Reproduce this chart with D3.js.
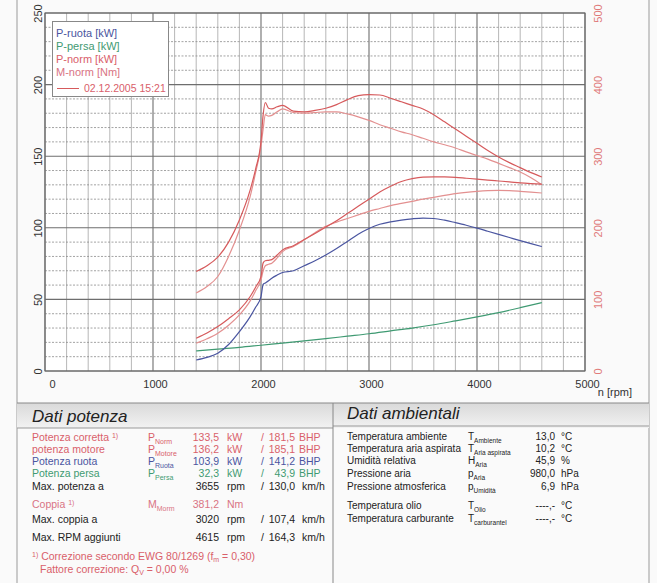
<!DOCTYPE html>
<html><head><meta charset="utf-8">
<script src="https://cdn.jsdelivr.net/npm/d3@7"></script>
<style>
body{margin:0;background:#fafafa;}
svg{display:block;font-family:Arial,"Liberation Sans",sans-serif;}
</style></head><body>
<svg id="c" width="657" height="583"></svg>
<script>
// ---------- data ----------
const rpm = [1400,1500,1600,1700,1800,1900,1950,2000,2020,2040,2070,2100,2150,2200,2300,2400,2500,2600,2700,2800,2900,3000,3100,3200,3300,3400,3500,3600,3700,3800,3900,4000,4100,4200,4300,4400,4500,4600];
const pRuota = [7.7,9.5,12.4,18.5,27.5,38,44.5,52,60.5,61.5,63,64.8,67,68.8,70,73.5,77,81,85.5,90.5,95.5,99.5,102.5,104.2,105.4,106.3,106.8,106.5,105.3,103.6,101.8,99.8,97.6,95.4,93.2,91,88.9,86.9];
const pNormA = [22.9,26.5,31,36.5,42.7,52,58.5,66,75.5,77,77.3,77.8,81,84.6,87.5,91.8,96,100.5,105,110,115,120,125,129,132.3,134.3,135.4,135.6,135.5,135.2,134.6,134,133.3,132.7,132.1,131.4,130.9,130.5];
const pNormB = [19.4,22.5,26.4,32,39.2,49,56,63.6,70,73.5,74.5,75.3,79,83.4,87,91.6,96.5,101,104,106.5,109,111.5,113.5,115.5,117,118.5,120,121.3,122.6,123.8,124.8,125.5,126,126.2,126,125.5,124.9,124.3];
const mNormA = [139,147,159,180,211,253,282,321,358,375,367,366,369,371,363,362,364,367,372,379,384.5,386,385.5,381,376,371,366,358,348,338,328,318,308,299,291,284,277,271];
const mNormB = [109,118,132,160,197,244,277,314,338,358,356,357,362,366,361,360,361,362,362,359,355,350,344,339,334,330,325,320,316,311.5,306,301,296,290,284,278,270,260];
const rpmPersa = [1400,1600,1800,2000,2200,2400,2600,2800,3000,3200,3400,3600,3800,4000,4200,4400,4600];
const pPersa = [14,15.3,16.5,18,19.5,21,22.6,24.3,26,28,30,32.3,35,37.8,40.8,44.2,47.8];

const xTicks = [0,1000,2000,3000,4000,5000];
const yLeftTicks = [0,50,100,150,200,250];
const yRightTicks = [0,100,200,300,400,500];
const legendLabels = ["P-ruota [kW]","P-persa [kW]","P-norm [kW]","M-norm [Nm]"];
const runLabel = "02.12.2005 15:21";

const C = {blue:"#4a55a0", green:"#3f9a72", redA:"#d65a5c", redB:"#e39090", red:"#d9606a", pink:"#d97484"};

// ---------- scales ----------
const svg = d3.select("#c");
const x = d3.scaleLinear().domain([0,5000]).range([45,585]);
const yP = d3.scaleLinear().domain([0,250]).range([371,13]);
const yM = d3.scaleLinear().domain([0,500]).range([371,13]);

// page borders
svg.append("line").attr("x1",17).attr("x2",17).attr("y1",0).attr("y2",583).attr("stroke","#9a9a9a");
svg.append("line").attr("x1",649).attr("x2",649).attr("y1",0).attr("y2",583).attr("stroke","#9a9a9a");

// plot background
svg.append("rect").attr("x",45).attr("y",13).attr("width",540).attr("height",358).attr("fill","#fff");

// grid
const g = svg.append("g");
d3.range(0,5001,200).forEach(v=>{
  const major = v%1000===0;
  g.append("line").attr("x1",x(v)).attr("x2",x(v)).attr("y1",13).attr("y2",371)
   .attr("stroke",major?"#6e6e6e":"#a4a4a4").attr("stroke-width",major?1.1:0.8);
});
d3.range(0,251,10).forEach(v=>{
  const major = v%50===0;
  g.append("line").attr("x1",45).attr("x2",585).attr("y1",yP(v)).attr("y2",yP(v))
   .attr("stroke",major?"#6e6e6e":"#8c8c8c").attr("stroke-width",major?1.1:0.8)
   .attr("stroke-dasharray",major?null:"2,1.5");
});
svg.append("rect").attr("x",45).attr("y",13).attr("width",540).attr("height",358)
  .attr("fill","none").attr("stroke","#666").attr("stroke-width",1);

// axes
const ax = svg.append("g").attr("transform","translate(2,371)")
  .call(d3.axisBottom(x).tickValues(xTicks).tickSize(0).tickPadding(9).tickFormat(d3.format("d")));
ax.select(".domain").remove();
ax.selectAll("text").attr("font-size",11).attr("fill","#333").attr("font-family","Arial, Liberation Sans, sans-serif");
ax.selectAll("text").filter(d=>d===0).attr("x",5);

const al = svg.append("g").attr("transform","translate(45,0)")
  .call(d3.axisLeft(yP).tickValues(yLeftTicks).tickSize(0).tickFormat(d3.format("d")));
al.select(".domain").remove();
al.selectAll("text").attr("transform","rotate(-90)").attr("x",0).attr("y",-3).attr("dy",0)
  .attr("text-anchor","middle").attr("font-size",11).attr("fill","#333").attr("font-family","Arial, Liberation Sans, sans-serif");

const ar = svg.append("g").attr("transform","translate(585,0)")
  .call(d3.axisRight(yM).tickValues(yRightTicks).tickSize(0).tickFormat(d3.format("d")));
ar.select(".domain").remove();
ar.selectAll("text").attr("transform","rotate(-90)").attr("x",0).attr("y",17).attr("dy",0)
  .attr("text-anchor","middle").attr("font-size",11).attr("fill","#e07a7a").attr("font-family","Arial, Liberation Sans, sans-serif");

svg.append("text").attr("x",632).attr("y",396).attr("text-anchor","end").attr("font-size",11).attr("fill","#333").text("n [rpm]");

// lines
const lineP = (xs)=>d3.line().x((d,i)=>x(xs[i])).y(d=>yP(d)).curve(d3.curveMonotoneX);
const lineM = (xs)=>d3.line().x((d,i)=>x(xs[i])).y(d=>yM(d)).curve(d3.curveMonotoneX);
const L = svg.append("g").attr("fill","none").attr("stroke-width",1.2);
L.append("path").attr("d",lineP(rpmPersa)(pPersa)).attr("stroke",C.green);
L.append("path").attr("d",lineM(rpm)(mNormB)).attr("stroke",C.redB);
L.append("path").attr("d",lineP(rpm)(pNormB)).attr("stroke",C.redB);
L.append("path").attr("d",lineM(rpm)(mNormA)).attr("stroke",C.redA);
L.append("path").attr("d",lineP(rpm)(pNormA)).attr("stroke",C.redA);
L.append("path").attr("d",lineP(rpm)(pRuota)).attr("stroke",C.blue);

// legend
const lg = svg.append("g");
lg.append("rect").attr("x",52.5).attr("y",21.5).attr("width",116).attr("height",75).attr("fill","#fff").attr("stroke","#888");
const lcol = [C.blue,C.green,C.red,C.pink];
legendLabels.forEach((t,i)=>{
  lg.append("text").attr("x",56).attr("y",37+i*13).attr("font-size",11).attr("fill",lcol[i]).text(t);
});
lg.append("line").attr("x1",57).attr("x2",79).attr("y1",88.5).attr("y2",88.5).attr("stroke",C.redA);
lg.append("text").attr("x",84).attr("y",92).attr("font-size",10.5).attr("fill",C.red).text(runLabel);

// ---------- bottom panel ----------
const defs = svg.append("defs");
const grad = defs.append("linearGradient").attr("id","hg").attr("x1",0).attr("x2",0).attr("y1",0).attr("y2",1);
grad.append("stop").attr("offset","0").attr("stop-color","#d9d9d9");
grad.append("stop").attr("offset","1").attr("stop-color","#f2f2f2");
svg.append("rect").attr("x",17).attr("y",403).attr("width",632).attr("height",25).attr("fill","url(#hg)");
svg.append("line").attr("x1",17).attr("x2",649).attr("y1",403).attr("y2",403).attr("stroke","#888");
svg.append("line").attr("x1",17).attr("x2",333).attr("y1",428).attr("y2",428).attr("stroke","#999");
svg.append("line").attr("x1",333).attr("x2",649).attr("y1",426).attr("y2",426).attr("stroke","#999");
svg.append("line").attr("x1",333).attr("x2",333).attr("y1",403).attr("y2",583).attr("stroke","#888");

svg.append("text").attr("x",32).attr("y",422).attr("font-size",17).attr("font-style","italic").attr("fill","#222").text("Dati potenza");
svg.append("text").attr("x",347).attr("y",419).attr("font-size",17).attr("font-style","italic").attr("fill","#222").text("Dati ambientali");

function sub(sel, main, s, fs){
  sel.append("tspan").text(main);
  sel.append("tspan").attr("font-size",fs||7).attr("dy",3).text(s);
}
const leftRows = [
  {y:441,label:"Potenza corretta ",sup:"1)",sym:"P",sub:"Norm",v1:"133,5",u1:"kW",v2:"181,5",u2:"BHP",col:C.red},
  {y:453,label:"potenza motore",sym:"P",sub:"Motore",v1:"136,2",u1:"kW",v2:"185,1",u2:"BHP",col:C.red},
  {y:465,label:"Potenza ruota",sym:"P",sub:"Ruota",v1:"103,9",u1:"kW",v2:"141,2",u2:"BHP",col:C.blue},
  {y:477,label:"Potenza persa",sym:"P",sub:"Persa",v1:"32,3",u1:"kW",v2:"43,9",u2:"BHP",col:C.green},
  {y:490,label:"Max. potenza a",v1:"3655",u1:"rpm",v2:"130,0",u2:"km/h",col:"#222"},
  {y:508,label:"Coppia ",sup:"1)",sym:"M",sub:"Morm",v1:"381,2",u1:"Nm",col:C.pink},
  {y:523,label:"Max. coppia a",v1:"3020",u1:"rpm",v2:"107,4",u2:"km/h",col:"#222"},
  {y:541,label:"Max. RPM aggiunti",v1:"4615",u1:"rpm",v2:"164,3",u2:"km/h",col:"#222"}
];
const T = svg.append("g").attr("font-size",10.5);
leftRows.forEach(r=>{
  const t = T.append("text").attr("x",32).attr("y",r.y).attr("fill",r.col);
  t.append("tspan").text(r.label);
  if(r.sup) t.append("tspan").attr("font-size",7).attr("dy",-3).text(r.sup);
  if(r.sym){ const s=T.append("text").attr("x",148).attr("y",r.y).attr("fill",r.col); sub(s,r.sym,r.sub); }
  T.append("text").attr("x",219).attr("y",r.y).attr("text-anchor","end").attr("fill",r.col).text(r.v1);
  T.append("text").attr("x",227).attr("y",r.y).attr("fill",r.col).text(r.u1);
  if(r.v2){
    T.append("text").attr("x",261).attr("y",r.y).attr("fill",r.col).text("/");
    T.append("text").attr("x",295).attr("y",r.y).attr("text-anchor","end").attr("fill",r.col).text(r.v2);
    T.append("text").attr("x",r.u2==="BHP"?299:302).attr("y",r.y).attr("fill",r.col).text(r.u2);
  }
});
const f1 = T.append("text").attr("x",32).attr("y",560).attr("fill",C.red);
f1.append("tspan").attr("font-size",7).attr("dy",-3).text("1)");
f1.append("tspan").attr("dy",3).text(" Correzione secondo EWG 80/1269 (f");
f1.append("tspan").attr("font-size",7).attr("dy",2).text("m");
f1.append("tspan").attr("dy",-2).text(" = 0,30)");
const f2 = T.append("text").attr("x",40).attr("y",573).attr("fill",C.red);
f2.append("tspan").text("Fattore correzione: Q");
f2.append("tspan").attr("font-size",7).attr("dy",2).text("V");
f2.append("tspan").attr("dy",-2).text(" =   0,00 %");

const rightRows = [
  {y:440,label:"Temperatura ambiente",sym:"T",sub:"Ambiente",v:"13,0",u:"°C"},
  {y:452,label:"Temperatura aria aspirata",sym:"T",sub:"Aria aspirata",v:"10,2",u:"°C"},
  {y:464,label:"Umidità relativa",sym:"H",sub:"Aria",v:"45,9",u:"%"},
  {y:477,label:"Pressione aria",sym:"p",sub:"Aria",v:"980,0",u:"hPa"},
  {y:490,label:"Pressione atmosferica",sym:"p",sub:"Umidità",v:"6,9",u:"hPa"},
  {y:509,label:"Temperatura olio",sym:"T",sub:"Olio",v:"----,-",u:"°C"},
  {y:522,label:"Temperatura carburante",sym:"T",sub:"carburantel",v:"----,-",u:"°C"}
];
const R = svg.append("g").attr("font-size",10);
rightRows.forEach(r=>{
  R.append("text").attr("x",347).attr("y",r.y).attr("fill","#222").text(r.label);
  const s=R.append("text").attr("x",468).attr("y",r.y).attr("fill","#222"); sub(s,r.sym,r.sub,6.5);
  R.append("text").attr("x",555).attr("y",r.y).attr("text-anchor","end").attr("fill","#222").text(r.v);
  R.append("text").attr("x",561).attr("y",r.y).attr("fill","#222").text(r.u);
});
</script>
</body></html>
